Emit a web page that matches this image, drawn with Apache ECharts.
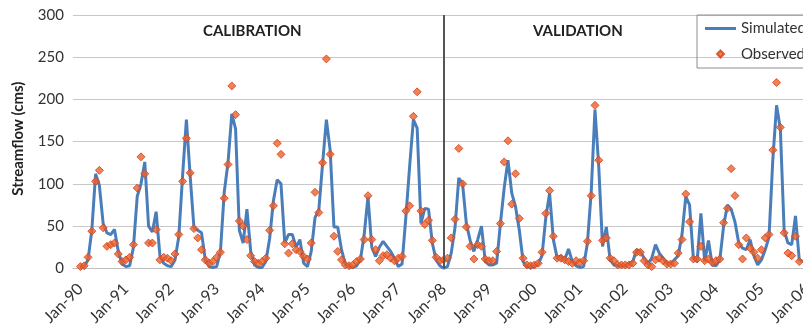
<!DOCTYPE html>
<html>
<head>
<meta charset="utf-8">
<title>Streamflow: simulated vs observed</title>
<script src="https://cdn.jsdelivr.net/npm/echarts@6/dist/echarts.min.js"></script>
<style>
  html, body { margin: 0; padding: 0; overflow: hidden; background: #ffffff; }
  #chart { width: 860px; height: 333px; }
</style>
</head>
<body>
<div id="chart"></div>
<script>
// Monthly record starts Jan-1990; the axis begins two months earlier and runs on past the record.
const firstYear = 1990;
const leadMonths = 2;
const axisEndMonth = 200;
const monthNames = ['Jan', 'Feb', 'Mar', 'Apr', 'May', 'Jun', 'Jul', 'Aug', 'Sep', 'Oct', 'Nov', 'Dec'];

// Simulated streamflow (cms), one row per year, Jan..Dec
const simulated = [
  0, 2, 10, 45, 112, 98, 53, 42, 40, 46, 20, 5,        // 1990
  2, 3, 25, 85, 100, 126, 50, 43, 67, 15, 6, 3,        // 1991
  2, 10, 38, 110, 176, 109, 48, 45, 42, 10, 2, 1,      // 1992
  2, 20, 90, 125, 183, 165, 45, 30, 70, 20, 4, 1,      // 1993
  1, 8, 35, 80, 105, 100, 30, 40, 40, 25, 34, 6,       // 1994
  2, 20, 60, 69, 124, 176, 140, 49, 49, 22, 5, 2,      // 1995
  1, 3, 10, 40, 85, 25, 14, 25, 32, 26, 20, 12,        // 1996
  2, 5, 60, 120, 176, 166, 53, 71, 70, 30, 10, 3,      // 1997
  0, 2, 18, 48, 107, 100, 53, 33, 20, 34, 50, 8,       // 1998
  4, 4, 6, 53, 95, 128, 89, 73, 45, 8, 2, 1,           // 1999
  2, 5, 15, 60, 89, 34, 12, 15, 10, 23, 8, 3,          // 2000
  1, 2, 30, 90, 188, 120, 26, 49, 10, 4, 3, 3,         // 2001
  3, 5, 8, 22, 20, 12, 5, 12, 28, 18, 12, 6,           // 2002
  5, 10, 15, 40, 85, 75, 12, 8, 65, 8, 33, 4,          // 2003
  3, 10, 50, 75, 70, 55, 30, 24, 22, 34, 15, 4,        // 2004
  10, 22, 37, 128, 193, 165, 45, 30, 28, 62, 10, 8     // 2005
];

// Observed streamflow (cms), one row per year, Jan..Dec
const observed = [
  2, 3, 13, 44, 103, 116, 48, 26, 28, 30, 17, 8,       // 1990
  10, 13, 28, 95, 132, 112, 30, 30, 46, 10, 13, 12,    // 1991
  9, 17, 40, 103, 154, 113, 47, 36, 22, 10, 6, 8,      // 1992
  13, 19, 83, 123, 216, 182, 56, 50, 34, 15, 8, 6,     // 1993
  8, 12, 45, 74, 148, 135, 29, 18, 29, 22, 20, 14,     // 1994
  11, 30, 90, 66, 125, 248, 135, 38, 20, 10, 4, 3,     // 1995
  4, 8, 11, 34, 86, 34, 22, 9, 15, 16, 12, 9,          // 1996
  12, 14, 68, 74, 180, 209, 68, 52, 57, 33, 13, 9,     // 1997
  10, 12, 36, 58, 142, 100, 49, 26, 11, 28, 26, 11,    // 1998
  9, 9, 20, 53, 126, 151, 76, 112, 59, 12, 4, 3,       // 1999
  4, 6, 19, 65, 92, 38, 12, 12, 10, 8, 6, 9,           // 2000
  7, 9, 32, 86, 193, 128, 33, 36, 12, 9, 4, 4,         // 2001
  4, 4, 6, 19, 19, 9, 4, 2, 10, 12, 9, 5,              // 2002
  5, 6, 18, 34, 88, 55, 11, 11, 26, 9, 11, 7,          // 2003
  9, 11, 54, 71, 118, 86, 28, 11, 36, 24, 19, 12,      // 2004
  22, 36, 40, 140, 220, 167, 42, 18, 15, 38, 8, null   // 2005
];

const yMin = 0, yMax = 300, yStep = 50;
const periodTitles = ['CALIBRATION', 'VALIDATION'];
const splitMonth = 'Jan-98';

// Month labels such as "Jan-90"
const categories = [];
for (let i = -leadMonths; i <= axisEndMonth; i++) {
  const d = new Date(firstYear, i, 1);
  categories.push(monthNames[d.getMonth()] + '-' + String(d.getFullYear() % 100).padStart(2, '0'));
}
const pad = (arr) => {
  const out = new Array(leadMonths).fill(null).concat(arr);
  while (out.length < categories.length) out.push(null);
  return out;
};

const font = 'Lato, "Open Sans", sans-serif';
const textColor = '#333333';
const simColor = '#4a7ebb';
const obsColor = '#ec622b';

// Legend glyphs: the zero-length segments at the corners fix the icon box at 31x14,
// so the bar and the diamond keep their own small size inside it.
const lineIcon = 'path://M0,0L0,0M31,14L31,14M0,5.5H31V8.5H0Z';
const diamondIcon = 'path://M0,0L0,0M31,14L31,14M15.5,3.5L19,7L15.5,10.5L12,7Z';

const chart = echarts.init(document.getElementById('chart'), null, { renderer: 'canvas' });
chart.setOption({
  animation: false,
  backgroundColor: '#ffffff',
  textStyle: { fontFamily: font },
  title: [
    { text: periodTitles[0], left: 203, top: 24, padding: 0,
      textStyle: { fontFamily: font, fontSize: 15, fontWeight: 'bold', color: '#222' } },
    { text: periodTitles[1], left: 533, top: 24, padding: 0,
      textStyle: { fontFamily: font, fontSize: 15, fontWeight: 'bold', color: '#222' } }
  ],
  legend: {
    orient: 'vertical',
    left: 697, top: 15,
    padding: [6, 8, 6, 7],
    itemWidth: 31, itemHeight: 14, itemGap: 10,
    symbolKeepAspect: true,
    borderColor: '#8c8c8c', borderWidth: 1,
    textStyle: { fontFamily: font, fontSize: 15, color: textColor },
    data: [
      { name: 'Simulated', icon: lineIcon },
      { name: 'Observed', icon: diamondIcon }
    ]
  },
  grid: { left: 72.9, right: 22.9, top: 15, bottom: 64.7, containLabel: false },
  xAxis: {
    type: 'category',
    data: categories,
    boundaryGap: false,
    axisTick: { show: false },
    axisLine: { lineStyle: { color: '#bfbfbf', width: 1 } },
    axisLabel: {
      interval: (idx, val) => val.startsWith('Jan'),
      rotate: 45,
      margin: 18,
      fontFamily: font, fontSize: 16, color: textColor
    },
    splitLine: { show: false }
  },
  yAxis: {
    type: 'value',
    min: yMin, max: yMax, interval: yStep,
    axisLine: { show: false },
    axisTick: { show: false },
    axisLabel: { margin: 9, fontFamily: font, fontSize: 15, color: textColor },
    splitLine: { lineStyle: { color: '#c8c8c8', width: 1 } },
    name: 'Streamflow (cms)',
    nameLocation: 'middle',
    nameGap: 47,
    nameTextStyle: { fontFamily: font, fontSize: 15, fontWeight: 'bold', color: '#222', padding: [0, 0, 0, 6] }
  },
  series: [
    {
      name: 'Simulated',
      type: 'line',
      data: pad(simulated),
      symbol: 'none',
      lineStyle: { color: simColor, width: 3 },
      itemStyle: { color: simColor },
      z: 2,
      markLine: {
        silent: true,
        symbol: 'none',
        label: { show: false },
        lineStyle: { color: '#555555', width: 2, type: 'solid' },
        data: [{ xAxis: splitMonth }]
      }
    },
    {
      name: 'Observed',
      type: 'scatter',
      data: pad(observed),
      symbol: 'diamond',
      symbolSize: 8,
      itemStyle: { color: obsColor, borderColor: '#d2401a', borderWidth: 1 },
      z: 3
    }
  ]
});
</script>
</body>
</html>
